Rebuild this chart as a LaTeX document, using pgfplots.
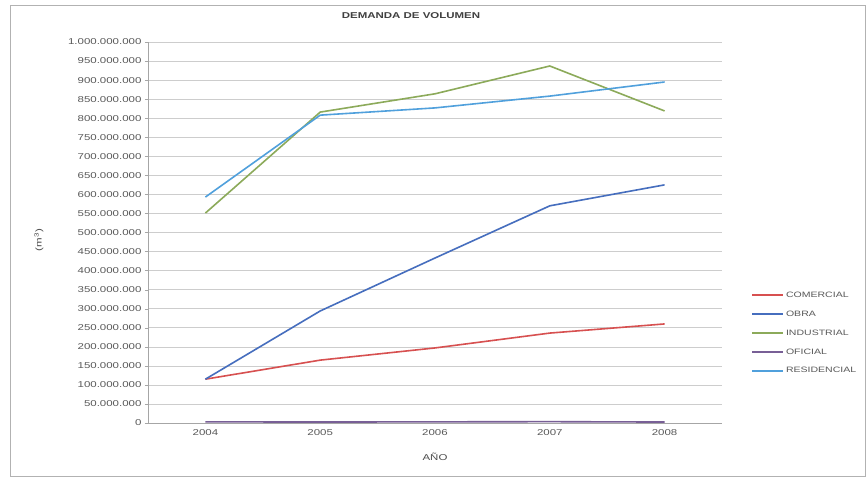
\documentclass[border=0pt]{standalone}
\usepackage{pgfplots}
\pgfplotsset{compat=1.18}
\usepackage{fontspec}
\setmainfont{Liberation Sans}
\newfontfamily\wide[FakeStretch=1.35]{Liberation Sans}

\definecolor{comercial}{RGB}{215,80,80}
\definecolor{obra}{RGB}{70,110,190}
\definecolor{industrial}{RGB}{140,170,90}
\definecolor{oficial}{RGB}{120,95,150}
\definecolor{residencial}{RGB}{80,160,220}
\definecolor{gridc}{RGB}{205,205,205}

\begin{document}
\begin{tikzpicture}[x=1pt,y=1pt]
  % chart area
  \fill[white] (0,0) rectangle (867,478);
  \draw[gray!60, line width=0.8pt] (10,2) rectangle (865,473);
  \node[font=\wide\fontsize{8.5}{10}\selectfont\bfseries, text=black!75] at (411,462) {DEMANDA DE VOLUMEN};
  \begin{axis}[
    at={(148pt,55pt)}, anchor=south west,
    scale only axis, width=574pt, height=381pt,
    xmin=-0.5, xmax=4.5, ymin=0, ymax=1000000000,
    xtick={0,1,2,3,4}, xticklabels={2004,2005,2006,2007,2008},
    ytick distance=50000000,
    scaled y ticks=false,
    yticklabel={\pgfmathprintnumber[fixed,1000 sep={.},precision=0]{\tick}},
    /pgf/number format/assume math mode=true,
    ticklabel style={font=\wide\fontsize{8.5}{9}\selectfont, text=black!65},
    ymajorgrids, grid style={gridc, line width=0.5pt},
    axis x line*=bottom, axis y line*=left,
    axis line style={gray!70},
    major tick length=3pt,
    xtick style={draw=none},
    ytick style={gray!70},
    tick align=outside,
    xlabel={AÑO}, ylabel={(m\textsuperscript{3})},
    xlabel style={font=\wide\fontsize{8.5}{9}\selectfont, text=black!70,
      at={(axis description cs:0.5,-0.09)}, anchor=center},
    ylabel style={font=\wide\fontsize{8.5}{9}\selectfont, text=black!70,
      at={(axis description cs:-0.19,0.48)}, anchor=center, rotate=0},
    legend style={draw=none, at={(1.045,0.236)}, anchor=west,
      font=\wide\fontsize{7.8}{9}\selectfont, text=black!65, row sep=8pt,
      fill=none},
    legend cell align=left,
    legend image code/.code={\draw[#1, line width=2pt] (0pt,0pt) -- (31pt,0pt);},
    every axis plot/.append style={line width=1.6pt},
  ]
    \addplot[comercial] coordinates {(0,115000000) (1,165000000) (2,197000000) (3,236000000) (4,260000000)};
    \addlegendentry{COMERCIAL}
    \addplot[obra] coordinates {(0,115000000) (1,294000000) (2,433000000) (3,570000000) (4,625000000)};
    \addlegendentry{OBRA}
    \addplot[industrial] coordinates {(0,551000000) (1,816000000) (2,864000000) (3,937000000) (4,819000000)};
    \addlegendentry{INDUSTRIAL}
    \addplot[oficial] coordinates {(0,3000000) (1,2500000) (2,3000000) (3,3500000) (4,2500000)};
    \addlegendentry{OFICIAL}
    \addplot[residencial] coordinates {(0,593000000) (1,808000000) (2,827000000) (3,858000000) (4,895000000)};
    \addlegendentry{RESIDENCIAL}
  \end{axis}
\end{tikzpicture}
\end{document}
